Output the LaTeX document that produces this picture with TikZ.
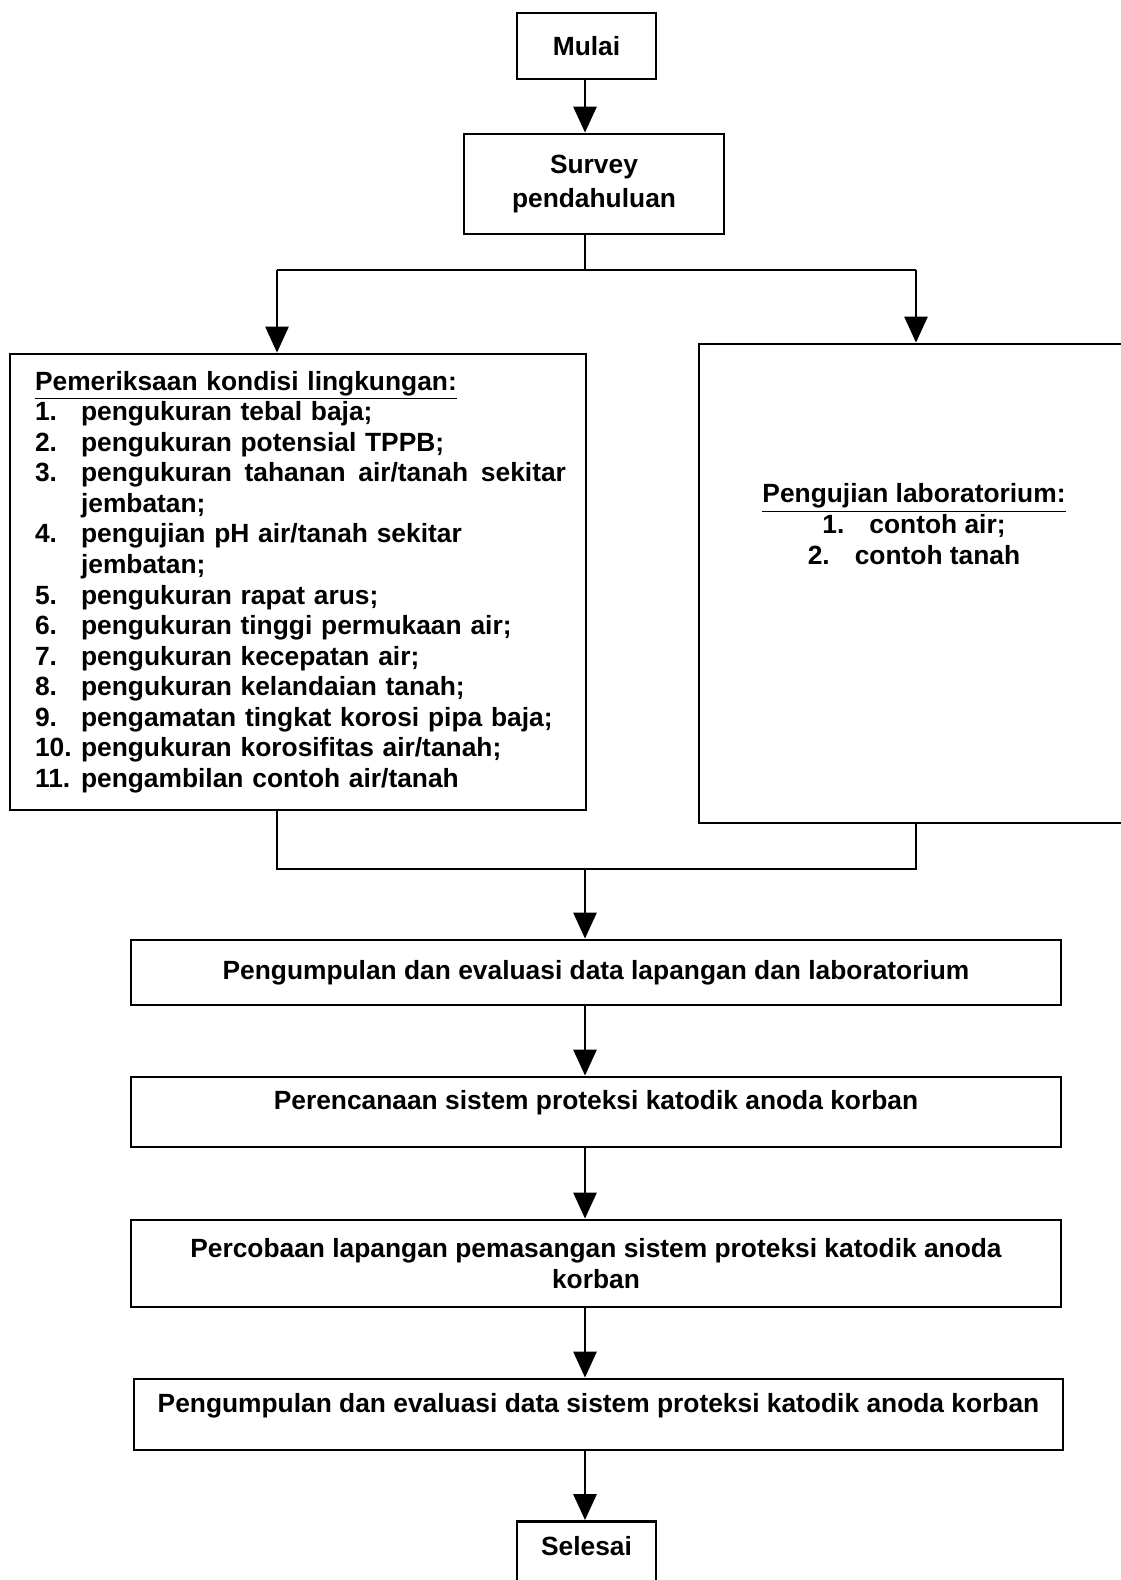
\documentclass[tikz,border=0pt]{standalone}
\usepackage{fontspec}
\setmainfont{Liberation Sans}
\usetikzlibrary{arrows.meta, positioning}

\tikzset{
  txt/.style={font=\bfseries\fontsize{15}{17.4}\selectfont},
  box/.style={draw, line width=1.6pt, txt, inner sep=0pt, align=center},
  link/.style={line width=1.6pt},
  flow/.style={link, -{Triangle[length=0.52cm, width=0.46cm]}},
}
\newcommand{\numline}[2]{\makebox[0.92cm][l]{#1}#2}

\begin{document}
\begin{tikzpicture}[x=0.02cm, y=-0.02cm]
\useasboundingbox (0,0) rectangle (1121,1580);
\clip (0,0) rectangle (1121,1580);

\coordinate (split) at (585,270);
\coordinate (lt) at (277,270);
\coordinate (rt) at (916,270);
\coordinate (merge) at (585,869);
\coordinate (lb) at (277,869);
\coordinate (rb) at (916,869);

\node[box, minimum width=2.78cm, minimum height=1.32cm] (mulai) at (586.5,46) {Mulai};
\node[box, minimum width=5.2cm, minimum height=2cm] (survey) at (594,184) {Survey\\[2.4pt]pendahuluan};

% field checks on the left, lab tests on the right
\node[box, align=left, minimum width=11.52cm, minimum height=9.12cm, text width=10.52cm] (env) at (298,582) {%
\underline{Pemeriksaan kondisi lingkungan:}\\
\numline{1.}{pengukuran tebal baja;}\\
\numline{2.}{pengukuran potensial TPPB;}\\
\numline{3.}{\makebox[9.7cm][s]{pengukuran\hfill tahanan\hfill air/tanah\hfill sekitar}}\\
\numline{}{jembatan;}\\
\numline{4.}{pengujian pH air/tanah sekitar}\\
\numline{}{jembatan;}\\
\numline{5.}{pengukuran rapat arus;}\\
\numline{6.}{pengukuran tinggi permukaan air;}\\
\numline{7.}{pengukuran kecepatan air;}\\
\numline{8.}{pengukuran kelandaian tanah;}\\
\numline{9.}{pengamatan tingkat korosi pipa baja;}\\
\numline{10.}{pengukuran korosifitas air/tanah;}\\
\numline{11.}{pengambilan contoh air/tanah}};
\node[box, minimum width=8.68cm, minimum height=9.58cm] (lab) at (916,583.5) {};
\node[txt, align=center] (labtext) at (914,524) {%
\underline{Pengujian laboratorium:}\\
1.\hspace{0.5cm}contoh air;\\
2.\hspace{0.5cm}contoh tanah};

\node[box, minimum width=18.6cm, minimum height=1.3cm] (data1) at (596,972.5) {Pengumpulan dan evaluasi data lapangan dan laboratorium};
\node[box, minimum width=18.6cm, minimum height=1.4cm, text depth=0.47cm] (plan) at (596,1112) {Perencanaan sistem proteksi katodik anoda korban};
\node[box, minimum width=18.6cm, minimum height=1.74cm] (trial) at (596,1263.5) {Percobaan lapangan pemasangan sistem proteksi katodik anoda\\korban};
\node[box, minimum width=18.58cm, minimum height=1.42cm, text depth=0.47cm] (data2) at (598.5,1414.5) {Pengumpulan dan evaluasi data sistem proteksi katodik anoda korban};
\node[box, minimum width=2.78cm, minimum height=1.3cm, text depth=0.32cm] (selesai) at (586.5,1554) {Selesai};

\draw[flow] (mulai.south -| split) -- (split |- survey.north);
\draw[link] (split |- survey.south) -- (split);
\draw[link] (lt) -- (rt);
\draw[flow] (lt) -- (lt |- env.north);
\draw[flow] (rt) -- (rt |- lab.north);

\draw[link] (lb |- env.south) -- (lb) -- (rb) -- (rb |- lab.south);
\draw[flow] (merge) -- (merge |- data1.north);
\draw[flow] (merge |- data1.south) -- (merge |- plan.north);
\draw[flow] (merge |- plan.south) -- (merge |- trial.north);
\draw[flow] (merge |- trial.south) -- (merge |- data2.north);
\draw[flow] (merge |- data2.south) -- (merge |- selesai.north);
\end{tikzpicture}
\end{document}
